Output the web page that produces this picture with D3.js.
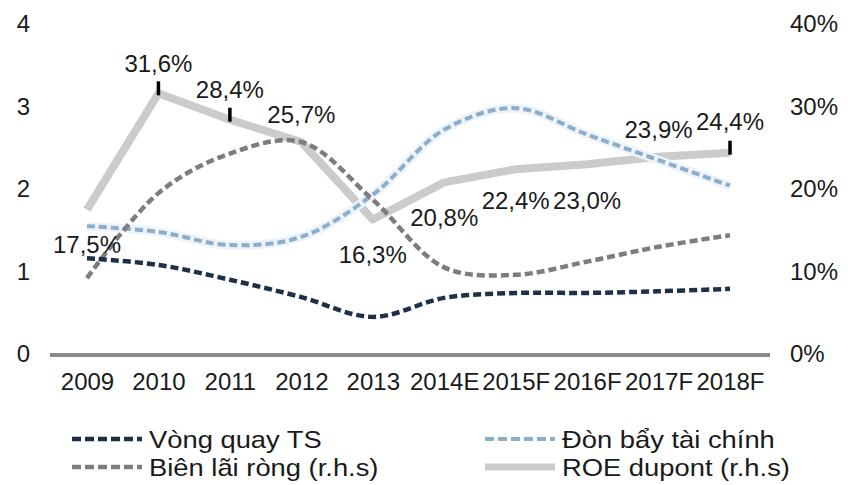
<!DOCTYPE html>
<html>
<head>
<meta charset="utf-8">
<script src="https://cdn.jsdelivr.net/npm/d3@7"></script>
<style>
  html, body { margin: 0; padding: 0; background: #ffffff; }
  svg { display: block; }
  text { font-family: "Liberation Sans", Arial, sans-serif; fill: #1a1a1a; }
</style>
</head>
<body>
<svg id="chart" width="848" height="485"></svg>
<script>
// Categories (years, E = estimate, F = forecast)
const years = ["2009", "2010", "2011", "2012", "2013", "2014E", "2015F", "2016F", "2017F", "2018F"];

// Left axis series (times)
const vongQuayTS = [1.16, 1.08, 0.90, 0.69, 0.45, 0.68, 0.74, 0.74, 0.76, 0.79];
const donBayTaiChinh = [1.55, 1.48, 1.32, 1.42, 1.93, 2.72, 2.98, 2.66, 2.35, 2.04];

// Right axis series (ratio)
const bienLaiRong = [0.092, 0.195, 0.243, 0.257, 0.187, 0.105, 0.096, 0.112, 0.130, 0.144];
const roeDupont = [0.175, 0.316, 0.284, 0.257, 0.163, 0.208, 0.224, 0.230, 0.239, 0.244];

// Tick values
const leftTicks = [0, 1, 2, 3, 4];
const rightTicks = [0, 0.1, 0.2, 0.3, 0.4];

// Placement of the ROE value labels relative to their points (dy) and which carry a leader tick
const roeLabelDy = [35, -30, -30, -27, 35, 35, 31, 36, -27, -31];
const roeLabelLeader = [false, true, true, false, false, false, false, false, false, true];

const svg = d3.select("#chart");

const x = d3.scalePoint().domain(years).range([87, 730]);
const yL = d3.scaleLinear().domain([0, 4]).range([354, 24]);
const yR = d3.scaleLinear().domain([0, 0.4]).range([354, 24]);

const fmtPct = v => d3.format(".1f")(v * 100).replace(".", ",") + "%";

// Axes
const gLeft = svg.append("g").attr("transform", "translate(30,0)")
  .call(d3.axisLeft(yL).tickValues(leftTicks).tickSize(0).tickPadding(0).tickFormat(d3.format("d")));
const gRight = svg.append("g").attr("transform", "translate(790,0)")
  .call(d3.axisRight(yR).tickValues(rightTicks).tickSize(0).tickPadding(0).tickFormat(d => Math.round(d * 100) + "%"));
const gBottom = svg.append("g").attr("transform", "translate(0,355)")
  .call(d3.axisBottom(x).tickSize(0).tickPadding(18));

[gLeft, gRight, gBottom].forEach(g => {
  g.select(".domain").remove();
  g.selectAll("text")
    .attr("font-family", "Liberation Sans, Arial, sans-serif")
    .attr("font-size", 24)
    .attr("fill", "#1a1a1a");
});

// Baseline
svg.append("line")
  .attr("x1", 50).attr("x2", 770)
  .attr("y1", yL(0) + 1).attr("y2", yL(0) + 1)
  .attr("stroke", "#8a8a8a").attr("stroke-width", 4);

const smooth = d3.curveCatmullRom.alpha(0.5);

// ROE dupont (r.h.s): thick light grey line
svg.append("path")
  .datum(roeDupont)
  .attr("fill", "none")
  .attr("stroke", "#cbcbcb")
  .attr("stroke-width", 8)
  .attr("stroke-linejoin", "round")
  .attr("d", d3.line().x((d, i) => x(years[i])).y(d => yR(d)).curve(d3.curveLinear));

// Đòn bẩy tài chính: light blue dashed with a soft halo
const lineL = d3.line().x((d, i) => x(years[i])).y(d => yL(d)).curve(smooth);
const lineR = d3.line().x((d, i) => x(years[i])).y(d => yR(d)).curve(smooth);

svg.append("path")
  .datum(donBayTaiChinh)
  .attr("fill", "none")
  .attr("stroke", "#edf3f9")
  .attr("stroke-width", 9)
  .attr("d", lineL);
svg.append("path")
  .datum(donBayTaiChinh)
  .attr("fill", "none")
  .attr("stroke", "#8aaecb")
  .attr("stroke-width", 4)
  .attr("stroke-dasharray", "8,4")
  .attr("d", lineL);

// Biên lãi ròng (r.h.s): grey dashed
svg.append("path")
  .datum(bienLaiRong)
  .attr("fill", "none")
  .attr("stroke", "#7d7d7d")
  .attr("stroke-width", 4.5)
  .attr("stroke-dasharray", "8,4")
  .attr("d", lineR);

// Vòng quay TS: dark navy dashed
svg.append("path")
  .datum(vongQuayTS)
  .attr("fill", "none")
  .attr("stroke", "#1e3048")
  .attr("stroke-width", 4.5)
  .attr("stroke-dasharray", "8,4")
  .attr("d", lineL);

// ROE value labels with leader ticks
roeDupont.forEach((v, i) => {
  const px = x(years[i]);
  const py = yR(v);
  if (roeLabelLeader[i]) {
    svg.append("line")
      .attr("x1", px).attr("x2", px)
      .attr("y1", py + 2).attr("y2", py - 12)
      .attr("stroke", "#000").attr("stroke-width", 3.5);
  }
  svg.append("text")
    .attr("x", px)
    .attr("y", py + roeLabelDy[i] + 8.5)
    .attr("text-anchor", "middle")
    .attr("font-size", 24)
    .text(fmtPct(v));
});

// Legend
const legendItems = [
  { name: "Vòng quay TS", color: "#1e3048", dash: "9,4", width: 4.5, col: 0, row: 0 },
  { name: "Đòn bẩy tài chính", color: "#8aaecb", dash: "9,4", width: 4, col: 1, row: 0 },
  { name: "Biên lãi ròng (r.h.s)", color: "#7d7d7d", dash: "9,4", width: 4.5, col: 0, row: 1 },
  { name: "ROE dupont (r.h.s)", color: "#cbcbcb", dash: null, width: 7, col: 1, row: 1 }
];
const legendCols = [72, 485];
const legendRows = [439, 467];

const leg = svg.append("g");
legendItems.forEach(it => {
  const lx = legendCols[it.col];
  const ly = legendRows[it.row];
  const ln = leg.append("line")
    .attr("x1", lx).attr("x2", lx + 70)
    .attr("y1", ly).attr("y2", ly)
    .attr("stroke", it.color)
    .attr("stroke-width", it.width);
  if (it.dash) ln.attr("stroke-dasharray", it.dash);
  leg.append("text")
    .attr("transform", `translate(${lx + 77},${ly + 8.5}) scale(1.14,1)`)
    .attr("font-size", 24)
    .text(it.name);
});
</script>
</body>
</html>
